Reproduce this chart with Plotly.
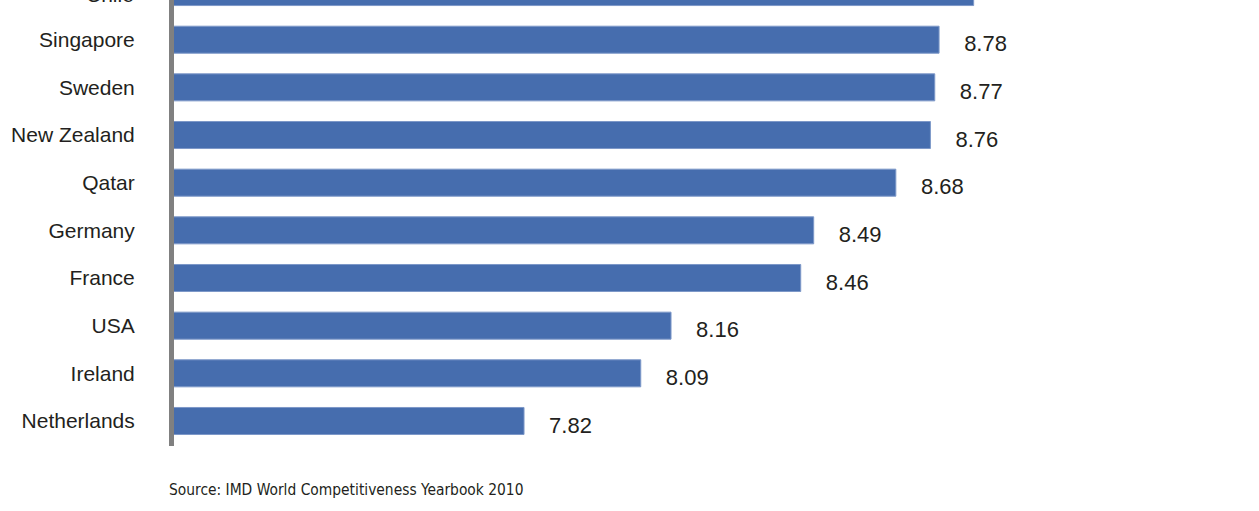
import plotly.graph_objects as go

countries = ["Chile", "Singapore", "Sweden", "New Zealand", "Qatar",
             "Germany", "France", "USA", "Ireland", "Netherlands"]
scores = [8.86, 8.78, 8.77, 8.76, 8.68, 8.49, 8.46, 8.16, 8.09, 7.82]
source_note = "Source: IMD World Competitiveness Yearbook 2010"

BAR_COLOR = "#466DAE"
TEXT_COLOR = "#231F20"
LABEL_FONT = "Liberation Sans, Arial, sans-serif"

x_range = [7.0104, 9.520]
y_range = [9.525, 0.167]          # reversed category axis, top bar partly cut
x_text_shift = 0.058              # value labels sit a little right of bar ends
y_text_shift = 0.13               # and slightly lower than bar centres

fig = go.Figure()
fig.add_trace(go.Bar(
    x=scores, y=countries, orientation="h",
    marker=dict(color=BAR_COLOR, line=dict(color="#7D98C8", width=1)),
    hoverinfo="x+y",
))
fig.add_trace(go.Scatter(
    x=scores, y=countries, mode="text",
    text=[f"{v:.2f}" for v in scores],
    textposition="middle right",
    textfont=dict(family=LABEL_FONT, size=22, color=TEXT_COLOR),
    xaxis="x2", yaxis="y2", cliponaxis=False, hoverinfo="skip",
))

# partially visible label of the top (cut-off) category
p_top = (0 - y_range[0]) / (y_range[1] - y_range[0])
fig.add_annotation(
    text=countries[0], xref="paper", yref="paper", x=0, y=p_top,
    xanchor="right", yanchor="middle", xshift=-38, yshift=-2, showarrow=False,
    font=dict(family=LABEL_FONT, size=21, color=TEXT_COLOR),
)
fig.add_annotation(
    text=source_note, xref="paper", yref="paper", x=0, y=-0.0987,
    xanchor="left", yanchor="middle", xshift=-7, showarrow=False,
    font=dict(family="DejaVu Sans Condensed, DejaVu Sans, sans-serif",
              size=15.4, color=TEXT_COLOR),
)

fig.update_layout(
    width=1259, height=511,
    margin=dict(l=174, r=0, t=0, b=65),
    paper_bgcolor="white", plot_bgcolor="white",
    showlegend=False, bargap=0.433,
    xaxis=dict(range=x_range, visible=False, fixedrange=True),
    yaxis=dict(type="category", categoryorder="array", categoryarray=countries,
               range=y_range, showline=True, linecolor="#808080", linewidth=5,
               showgrid=False, zeroline=False, ticks="", ticklabelstandoff=30,
               tickfont=dict(family=LABEL_FONT, size=21, color=TEXT_COLOR)),
    xaxis2=dict(range=[x_range[0] - x_text_shift, x_range[1] - x_text_shift],
                overlaying="x", visible=False),
    yaxis2=dict(type="category", categoryorder="array", categoryarray=countries,
                range=[y_range[0] - y_text_shift, y_range[1] - y_text_shift],
                overlaying="y", visible=False),
)

fig.write_html("out.html", post_script="document.body.style.margin='0';",
               config={"displayModeBar": False})
